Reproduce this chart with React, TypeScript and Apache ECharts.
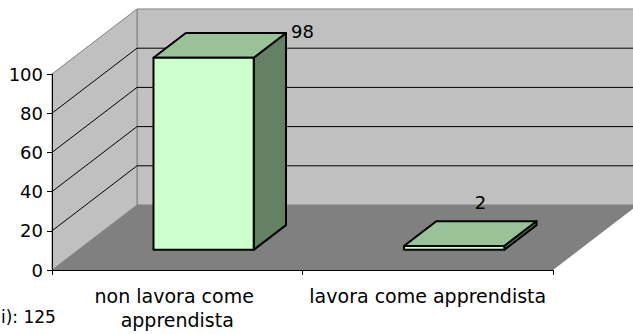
import React, { useEffect, useRef } from "react";
import * as echarts from "echarts";

const categories = ["non lavora come apprendista", "lavora come apprendista"];
const values = [98, 2];
const yMin = 0;
const yMax = 100;
const yInterval = 20;
const gridValues = [20, 40, 60, 80];
const footnote = "i): 125";

const DX = 85;
const DY = -65;
const BAR_FRONT = 0.31;
const BAR_BACK = 0.69;
const BAR_WIDTH = 0.4;
const FONT = "'DejaVu Sans', sans-serif";

export default function App() {
  const ref = useRef<HTMLDivElement>(null);
  useEffect(() => {
    const chart = echarts.init(ref.current!, null, { renderer: "svg" });

    const wallItem = (params: any, api: any) => {
      const band = api.size([1, 0])[0];
      const xl = api.coord([0, 0])[0] - band / 2;
      const xr = api.coord([categories.length - 1, 0])[0] + band / 2;
      const y0 = api.coord([0, yMin])[1];
      const yTop = api.coord([0, yMax])[1];
      const children: any[] = [];
      children.push({
        type: "polygon",
        shape: { points: [[xl + DX, yTop + DY], [xr + DX, yTop + DY], [xr + DX, y0 + DY], [xl + DX, y0 + DY]] },
        style: { fill: "#c0c0c0", stroke: "#808080", lineWidth: 1 },
      });
      children.push({
        type: "polygon",
        shape: { points: [[xl, yTop], [xl + DX, yTop + DY], [xl + DX, y0 + DY], [xl, y0]] },
        style: { fill: "#c0c0c0", stroke: "#808080", lineWidth: 1 },
      });
      children.push({
        type: "polygon",
        shape: { points: [[xl, y0], [xl + DX, y0 + DY], [xr + DX, y0 + DY], [xr, y0]] },
        style: { fill: "#808080" },
      });
      gridValues.forEach((v) => {
        const y = api.coord([0, v])[1];
        children.push({
          type: "polyline",
          shape: { points: [[xl, y], [xl + DX, y + DY], [xr + DX, y + DY]] },
          style: { stroke: "#000", lineWidth: 1, fill: "none" },
        });
      });
      return { type: "group", children };
    };

    const barItem = (params: any, api: any) => {
      const idx = api.value(0);
      const v = api.value(1);
      const band = api.size([1, 0])[0];
      const bw = band * BAR_WIDTH;
      const cx = api.coord([idx, 0])[0];
      const y0 = api.coord([idx, 0])[1];
      const yv = api.coord([idx, v])[1];
      const xl = cx - bw / 2;
      const xr = cx + bw / 2;
      const fx = BAR_FRONT * DX, fy = BAR_FRONT * DY;
      const bx = BAR_BACK * DX, by = BAR_BACK * DY;
      const stroke = { stroke: "#000", lineWidth: 2, lineJoin: "round" };
      const children: any[] = [];
      children.push({
        type: "polygon",
        shape: { points: [[xr + fx, yv + fy], [xr + bx, yv + by], [xr + bx, y0 + by], [xr + fx, y0 + fy]] },
        style: { fill: "#668066", ...stroke },
      });
      children.push({
        type: "polygon",
        shape: { points: [[xl + fx, yv + fy], [xr + fx, yv + fy], [xr + bx, yv + by], [xl + bx, yv + by]] },
        style: { fill: "#99c299", ...stroke },
      });
      children.push({
        type: "polygon",
        shape: { points: [[xl + fx, yv + fy], [xr + fx, yv + fy], [xr + fx, y0 + fy], [xl + fx, y0 + fy]] },
        style: { fill: "#ccffcc", ...stroke },
      });
      const yTop = api.coord([0, yMax])[1] + DY;
      let lx = cx + bx - 6;
      let ly = yv + by - 19;
      let align = "center";
      if (ly - 10 < yTop) {
        lx = xr + bx + 5;
        ly = yv + by - 2;
        align = "left";
      }
      children.push({
        type: "text",
        x: lx,
        y: ly,
        style: {
          text: String(v),
          fill: "#000",
          font: `18px ${FONT}`,
          align,
          verticalAlign: "middle",
        },
      });
      return { type: "group", children };
    };

    chart.setOption({
      animation: false,
      backgroundColor: "#fff",
      grid: { left: 52, top: 74, width: 501, height: 196, containLabel: false },
      xAxis: {
        type: "category",
        data: categories,
        axisLine: { lineStyle: { color: "#000", width: 1 } },
        axisTick: { show: true, length: 5, lineStyle: { color: "#000" } },
        axisLabel: {
          color: "#000",
          fontSize: 19,
          fontFamily: FONT,
          margin: 14,
          lineHeight: 24,
          width: 245,
          overflow: "break",
          interval: 0,
        },
        splitLine: { show: false },
      },
      yAxis: {
        type: "value",
        min: yMin,
        max: yMax,
        interval: yInterval,
        axisLine: { show: true, lineStyle: { color: "#000", width: 1 } },
        axisTick: { show: true, length: 5, lineStyle: { color: "#000" } },
        axisLabel: { color: "#000", fontSize: 18, fontFamily: FONT, margin: 9 },
        splitLine: { show: false },
      },
      graphic: [
        {
          type: "text",
          left: 1,
          top: 308,
          style: { text: footnote, fill: "#000", font: `17px ${FONT}` },
        },
      ],
      series: [
        {
          type: "custom",
          coordinateSystem: "cartesian2d",
          renderItem: wallItem,
          data: [[0, 0]],
          clip: false,
          silent: true,
          z: 0,
        },
        {
          type: "custom",
          coordinateSystem: "cartesian2d",
          renderItem: barItem,
          data: values.map((v, i) => [i, v]),
          clip: false,
          silent: true,
          z: 1,
        },
      ],
    });
    return () => chart.dispose();
  }, []);
  return (
    <div
      ref={ref}
      style={{ position: "fixed", left: 0, top: 0, width: 633, height: 334 }}
    />
  );
}
